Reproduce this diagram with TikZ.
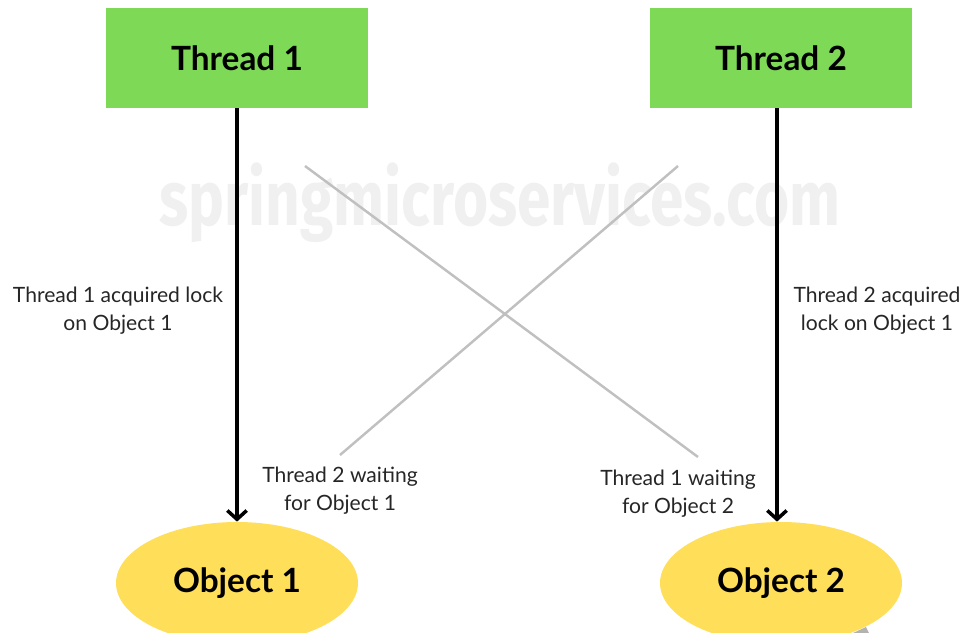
\documentclass[tikz,border=0pt]{standalone}
\usepackage{fontspec}
\setmainfont{Lato}
\newfontfamily\markfont{Fira Sans}
\usetikzlibrary{arrows.meta,positioning,shapes.geometric}
\definecolor{threadgreen}{RGB}{126,217,87}
\definecolor{objyellow}{RGB}{255,222,89}
\definecolor{crossgray}{RGB}{192,192,192}
\tikzset{every node/.append style={transform shape=false}}
\tikzset{threadbox/.style={fill=threadgreen,minimum width=5.24cm,minimum height=2cm,
    font=\fontsize{19}{22}\selectfont\bfseries}}
\tikzset{objnode/.style={ellipse,fill=objyellow,minimum width=4.84cm,minimum height=2.44cm,
    font=\fontsize{19}{22}\selectfont\bfseries}}
\tikzset{lbl/.style={align=center,text=black!85,font=\fontsize{12}{16}\selectfont}}
\tikzset{lockarrow/.style={line width=2pt,-{Straight Barb[length=5pt,width=11pt]}}}

\begin{document}
\begin{tikzpicture}[x=0.02cm,y=-0.02cm]
  \useasboundingbox (0,0) rectangle (965,633);
  \clip (0,0) rectangle (965,633);
  % watermark
  \node[text=black!6,font=\markfont\fontsize{44}{44}\selectfont\bfseries,xscale=0.78]
    (mark) at (500,203) {springmicroservices.com};
  % threads and objects
  \node[threadbox] (t1) at (237,58) {Thread 1};
  \node[threadbox] (t2) at (781,58) {Thread 2};
  \node[objnode] (o1) at (237,583) {Object 1};
  \node[objnode] (o2) at (781,583) {Object 2};
  % crossing lines
  \coordinate (a1) at (305,166);
  \coordinate (a2) at (698,457);
  \coordinate (b1) at (678,166);
  \coordinate (b2) at (340,455);
  \draw[crossgray,line width=1.4pt] (a1) -- (a2);
  \draw[crossgray,line width=1.4pt] (b1) -- (b2);
  \fill[black!30] (853,633) -- (866,627) -- (869,633) -- cycle;
  % lock arrows
  \draw[lockarrow] (t1.south -| o1.north) -- (o1.north);
  \draw[lockarrow] (t2.south -| 777,0) -- (o2.north -| 777,0);
  % labels
  \node[lbl] (l1) at (118,311) {Thread 1 acquired lock\\on Object 1};
  \node[lbl] (l2) at (877,311) {Thread 2 acquired\\lock on Object 1};
  \node[lbl] (l3) at (340,491) {Thread 2 waiting\\for Object 1};
  \node[lbl] (l4) at (678,494) {Thread 1 waiting\\for Object 2};
\end{tikzpicture}
\end{document}
